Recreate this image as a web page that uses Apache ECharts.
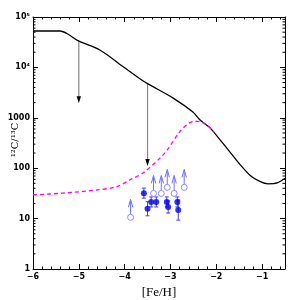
<!DOCTYPE html>
<html><head><meta charset="utf-8">
<script src="https://cdn.jsdelivr.net/npm/echarts@6/dist/echarts.min.js"></script>
<style>html,body{margin:0;padding:0;background:#fff}#c{width:300px;height:300px}</style>
</head><body><div id="c"></div>
<script>
// ---- data ----
const xTickValues = [-6, -5, -4, -3, -2, -1];
const yTickLabels = {1: '1', 10: '10', 100: '100', 1000: '1000', 10000: '10\u2074', 100000: '10\u2075'};

const modelFeH   = [-6.0, -5.7, -5.41, -5.24, -5.02, -4.54, -4.0, -3.66, -3.49, -2.94, -2.51, -2.354, -2.135, -1.917, -1.70, -1.48, -1.26, -1.04, -0.87, -0.67, -0.5];
const modelRatio = [52700, 52700, 52700, 46000, 34000, 22100, 9800, 5900, 4700, 2460, 1300, 904, 630, 365, 209, 118, 72, 54, 49, 51, 63];

const model2FeH   = [-6.0, -5.35, -4.6, -4.17, -3.88, -3.6, -3.23, -3.07, -2.8, -2.6, -2.45, -2.3, -2.2, -2.135, -2.05];
const model2Ratio = [29.5, 32, 37, 43, 59, 80, 158, 230, 525, 780, 860, 800, 720, 630, 500];

const arrowFeH  = [-5.0, -3.5];
const arrowFrom = [34000, 4700];
const arrowTo   = [1950, 110];

const detFeH   = [-3.58, -3.50, -3.42, -3.31, -3.08, -3.05, -2.85, -2.83];
const detRatio = [32, 15.7, 21.4, 21.4, 21.4, 17, 21.4, 14.8];
const detErr   = [0.1, 0.14, 0.1, 0.1, 0.1, 0.12, 0.1, 0.2];

const limFeH   = [-3.87, -3.37, -3.20, -3.07, -2.92, -2.70];
const limRatio = [10.6, 31.6, 31.6, 41.7, 31.6, 41.7];

// ---- build ----
const minorVals = [];
for (let d = 1; d < 100000; d *= 10) for (let k = 2; k <= 9; k++) minorVals.push(k * d);

const XMIN = -6, XMAX = -0.5;
const chart = echarts.init(document.getElementById('c'));
const labelFont = {fontFamily: 'DejaVu Sans', fontWeight: 'bold', fontSize: 8, color: '#000'};

const axisCommon = {
  axisLine: {show: true, lineStyle: {color: '#000', width: 1}},
  axisTick: {show: true, inside: true, length: 5, lineStyle: {color: '#000'}},
  splitLine: {show: false}
};

chart.setOption({
  animation: false,
  backgroundColor: '#fff',
  grid: {left: 33, right: 15, top: 17, bottom: 31, containLabel: false, outerBoundsMode: 'none'},
  xAxis: [
    Object.assign({}, axisCommon, {
      type: 'value', min: XMIN, max: XMAX, interval: 1, position: 'bottom',
      name: '[Fe/H]', nameLocation: 'middle', nameGap: 17, nameMoveOverlap: false,
      nameTextStyle: {fontFamily: 'Liberation Serif', fontSize: 13, color: '#000'},
      minorTick: {show: true, splitNumber: 5, length: 2.5, lineStyle: {color: '#000'}},
      axisLabel: Object.assign({}, labelFont, {margin: 4, showMaxLabel: false,
        formatter: v => xTickValues.includes(Math.round(v)) && Math.abs(v - Math.round(v)) < 1e-6 ? ('\u2212' + Math.abs(Math.round(v))) : ''})
    }),
    Object.assign({}, axisCommon, {
      type: 'value', min: XMIN, max: XMAX, interval: 1, position: 'top',
      minorTick: {show: true, splitNumber: 5, length: 2.5, lineStyle: {color: '#000'}},
      axisLabel: {show: false}
    })
  ],
  yAxis: [
    Object.assign({}, axisCommon, {
      type: 'log', logBase: 10, min: 1, max: 100000, position: 'left',
      name: '\u00b9\u00b2C/\u00b9\u00b3C', nameLocation: 'middle', nameGap: 13, nameMoveOverlap: false,
      nameTextStyle: {fontFamily: 'DejaVu Serif', fontSize: 10, color: '#000', padding: [0, 0, 0, 6]},
      axisLabel: Object.assign({}, labelFont, {margin: 3,
        formatter: v => yTickLabels[Math.round(v)] || ''})
    }),
    Object.assign({}, axisCommon, {
      type: 'log', logBase: 10, min: 1, max: 100000, position: 'right',
      axisLabel: {show: false}
    })
  ],
  series: [
    {
      type: 'custom', silent: true, clip: false,
      data: minorVals.map(v => [XMIN, v]),
      renderItem: (params, api) => {
        const v = api.value(1);
        const a = api.coord([XMIN, v]), b = api.coord([XMAX, v]);
        return {type: 'group', children: [
          {type: 'line', shape: {x1: a[0], y1: a[1], x2: a[0] + 2.5, y2: a[1]}, style: {stroke: '#000', lineWidth: 1}},
          {type: 'line', shape: {x1: b[0] - 2.5, y1: b[1], x2: b[0], y2: b[1]}, style: {stroke: '#000', lineWidth: 1}}
        ]};
      }
    },
    {
      type: 'line', data: modelFeH.map((x, i) => [x, modelRatio[i]]),
      smooth: 0.3, showSymbol: false, symbol: 'none',
      lineStyle: {color: '#000', width: 1.3}
    },
    {
      type: 'line', data: model2FeH.map((x, i) => [x, model2Ratio[i]]),
      smooth: 0.3, showSymbol: false, symbol: 'none',
      lineStyle: {color: '#ff00ff', width: 1.3, type: [4, 3]}
    },
    {
      type: 'custom', silent: true,
      data: arrowFeH.map((x, i) => [x, arrowFrom[i], arrowTo[i]]),
      renderItem: (params, api) => {
        const p0 = api.coord([api.value(0), api.value(1)]);
        const p1 = api.coord([api.value(0), api.value(2)]);
        return {type: 'group', children: [
          {type: 'line', shape: {x1: p0[0], y1: p0[1], x2: p1[0], y2: p1[1] - 5}, style: {stroke: '#888', lineWidth: 1.2}},
          {type: 'polygon', shape: {points: [[p1[0] - 2.2, p1[1] - 7], [p1[0] + 2.2, p1[1] - 7], [p1[0], p1[1]]]}, style: {fill: '#000'}}
        ]};
      }
    },
    {
      type: 'custom', silent: true,
      data: detFeH.map((x, i) => [x, detRatio[i], detErr[i]]),
      renderItem: (params, api) => {
        const x = api.value(0), r = api.value(1), e = api.value(2);
        const lo = api.coord([x, r / Math.pow(10, e)]);
        const hi = api.coord([x, r * Math.pow(10, e)]);
        return {type: 'group', children: [
          {type: 'line', shape: {x1: lo[0], y1: lo[1], x2: hi[0], y2: hi[1]}, style: {stroke: '#4040ff', lineWidth: 1}},
          {type: 'line', shape: {x1: lo[0] - 2, y1: lo[1], x2: lo[0] + 2, y2: lo[1]}, style: {stroke: '#4040ff', lineWidth: 1}},
          {type: 'line', shape: {x1: hi[0] - 2, y1: hi[1], x2: hi[0] + 2, y2: hi[1]}, style: {stroke: '#4040ff', lineWidth: 1}}
        ]};
      }
    },
    {
      type: 'custom', silent: true,
      data: limFeH.map((x, i) => [x, limRatio[i]]),
      renderItem: (params, api) => {
        const p = api.coord([api.value(0), api.value(1)]);
        const top = p[1] - 18;
        return {type: 'group', children: [
          {type: 'line', shape: {x1: p[0], y1: p[1] - 3, x2: p[0], y2: top + 2}, style: {stroke: '#7070ff', lineWidth: 1}},
          {type: 'polyline', shape: {points: [[p[0] - 2.2, top + 8], [p[0], top], [p[0] + 2.2, top + 8]]}, style: {stroke: '#7070ff', fill: 'none', lineWidth: 1}}
        ]};
      }
    },
    {
      type: 'scatter', data: limFeH.map((x, i) => [x, limRatio[i]]),
      symbol: 'circle', symbolSize: 6,
      itemStyle: {color: '#fff', borderColor: '#7070ff', borderWidth: 1}
    },
    {
      type: 'scatter', data: detFeH.map((x, i) => [x, detRatio[i]]),
      symbol: 'circle', symbolSize: 6,
      itemStyle: {color: '#0000ee'}
    }
  ]
});
</script></body></html>
